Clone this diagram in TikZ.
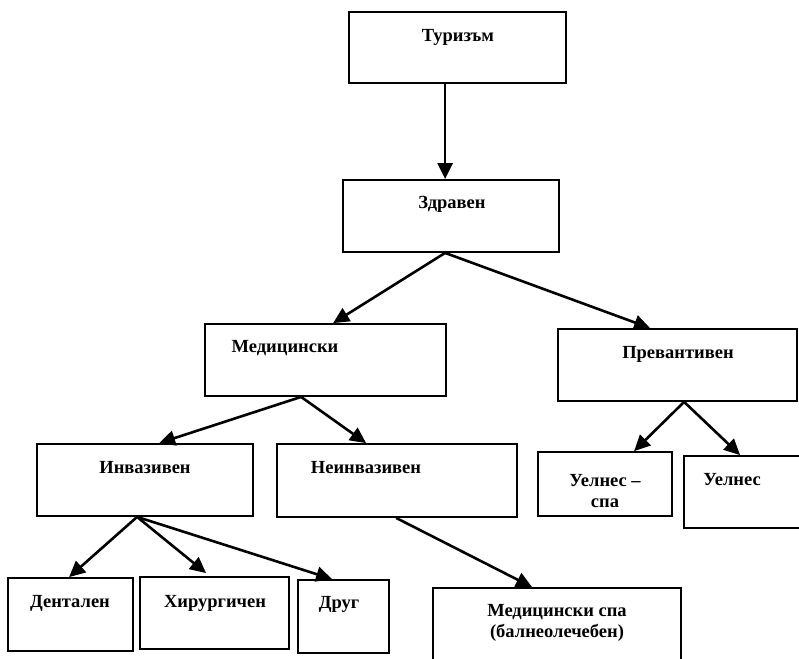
\documentclass[tikz,border=0pt]{standalone}
\usepackage{fontspec}
\setmainfont{Liberation Serif}
\usetikzlibrary{arrows.meta,calc}
\begin{document}
\begin{tikzpicture}[x=1pt,y=-1pt,
  box/.style={draw=black,line width=1.8pt,inner sep=0pt},
  lbl/.style={font=\bfseries\fontsize{18.5}{21}\selectfont,inner sep=0pt,align=center},
  arr/.style={line width=2.6pt,-{Triangle[length=16pt,width=15pt]}}]
\useasboundingbox (0,0) rectangle (799,658);
\clip (0,0) rectangle (799,658);
% boxes
\node[box,minimum width=217pt,minimum height=71pt] (tur) at (457.5,47.5) {};
\node[box,minimum width=216pt,minimum height=72pt] (zdr) at (451,216) {};
\node[box,minimum width=241pt,minimum height=72pt] (med) at (325.5,360) {};
\node[box,minimum width=239pt,minimum height=72pt] (prev) at (677.5,365) {};
\node[box,minimum width=216pt,minimum height=72pt] (inv) at (145,480) {};
\node[box,minimum width=240pt,minimum height=73pt] (ninv) at (397,480.5) {};
\node[box,minimum width=134pt,minimum height=64pt] (uspa) at (605,484) {};
\node[box,minimum width=120pt,minimum height=72pt] (uel) at (744,492) {};
\node[box,minimum width=125pt,minimum height=73pt] (dent) at (70.5,614.5) {};
\node[box,minimum width=149pt,minimum height=72pt] (hir) at (214.5,613) {};
\node[box,minimum width=91pt,minimum height=73pt] (drug) at (343.5,616.5) {};
\node[box,minimum width=248pt,minimum height=80pt] (mspa) at (557,628) {};
% labels
\node[lbl,anchor=base] (turT) at (458,42) {Туризъм};
\node[lbl,anchor=base] (zdrT) at (452,208) {Здравен};
\node[lbl,anchor=base] (medT) at (285,352) {Медицински};
\node[lbl,anchor=base] (prevT) at (678,358) {Превантивен};
\node[lbl,anchor=base] (invT) at (145,473) {Инвазивен};
\node[lbl,anchor=base] (ninvT) at (366,473) {Неинвазивен};
\node[lbl] (uspaT) at (605,491) {Уелнес –\\спа};
\node[lbl,anchor=base] (uelT) at (732,485) {Уелнес};
\node[lbl,anchor=base] (dentT) at (70,607) {Дентален};
\node[lbl,anchor=base] (hirT) at (215,607) {Хирургичен};
\node[lbl,anchor=base] (drugT) at (339,608) {Друг};
\node[lbl] (mspaT) at (557,623) {Медицински спа\\(балнеолечебен)};
% connectors
\draw[arr] ($(tur.south west)+(97,0)$) -- ($(zdr.north west)+(103,0)$);
\draw[arr] ($(zdr.south west)+(103,0)$) -- ($(med.north west)+(129,0)$);
\draw[arr] ($(zdr.south west)+(103,0)$) -- ($(prev.north west)+(93,0)$);
\draw[arr] ($(med.south west)+(97,0)$) -- ($(inv.north west)+(123,0)$);
\draw[arr] ($(med.south west)+(97,0)$) -- ($(ninv.north west)+(90,0)$);
\draw[arr] ($(prev.south west)+(127,0)$) -- ($(uspa.north west)+(97,0)$);
\draw[arr] ($(prev.south west)+(127,0)$) -- ($(uel.north west)+(57,0)$);
\draw[arr] ($(inv.south west)+(101,0)$) -- ($(dent.north west)+(62,0)$);
\draw[arr] ($(inv.south west)+(101,0)$) -- ($(hir.north west)+(67,-3)$);
\draw[arr] ($(inv.south west)+(101,0)$) -- ($(drug.north west)+(35,0)$);
\draw[arr] ($(ninv.south west)+(120,0)$) -- ($(mspa.north west)+(100,0)$);
\end{tikzpicture}
\end{document}
